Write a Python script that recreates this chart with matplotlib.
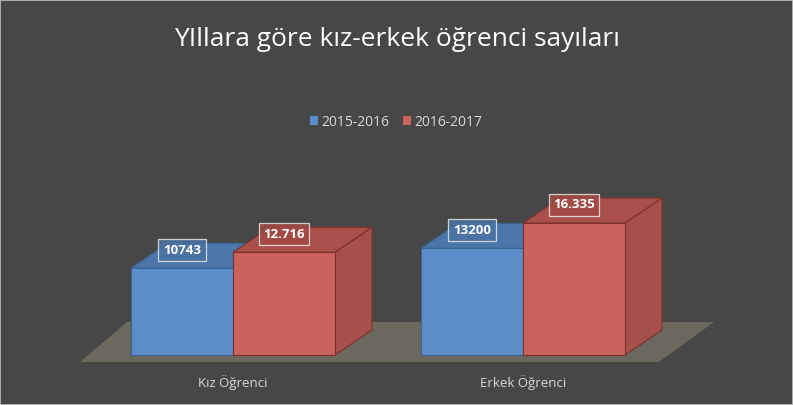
import matplotlib
matplotlib.use("Agg")
import matplotlib.pyplot as plt
from matplotlib.patches import Polygon, Rectangle

# data
categories = ["Kız Öğrenci", "Erkek Öğrenci"]
series_names = ["2015-2016", "2016-2017"]
values_2015 = [10743, 13200]
values_2016 = [12716, 16335]
labels_2015 = ["10743", "13200"]
labels_2016 = ["12.716", "16.335"]

BG = "#474747"
front_cols = ["#5b8ec8", "#c9635b"]
top_cols = ["#4a76aa", "#a9504a"]
side_cols = ["#4a76aa", "#a5504a"]
edge_cols = ["#3a6392", "#7e302b"]
box_cols = ["#4a72a2", "#a44a44"]

plt.rcParams['font.family'] = ['Open Sans', 'DejaVu Sans']

fig = plt.figure(figsize=(7.93, 4.05), dpi=100)
fig.patch.set_facecolor(BG)
ax = fig.add_axes([0, 0, 1, 1])
ax.set_facecolor(BG)
ax.axis("off")

# 1 category step = 290 px, 1 value unit = 0.00808 px, baseline 50 px above the bottom
px_x = 290.0
px_v = 0.00808
ax.set_xlim(-233 / px_x, (793 - 233) / px_x)
ax.set_ylim(-50 / px_v, (405 - 50) / px_v)

w = 102 / px_x          # bar width
dx = 37 / px_x          # depth offset (x)
dy = 25 / px_v          # depth offset (value)

# floor
floor = Polygon([(-153 / px_x, -7 / px_v), (426 / px_x, -7 / px_v),
                 (481 / px_x, 33 / px_v), (-106 / px_x, 33 / px_v)],
                closed=True, facecolor="#6b685e", edgecolor="none", zorder=1)
ax.add_patch(floor)


def box3d(x0, v, k, z):
    fc, tc, sc, ec = front_cols[k], top_cols[k], side_cols[k], edge_cols[k]
    side = Polygon([(x0 + w, 0), (x0 + w + dx, dy), (x0 + w + dx, v + dy), (x0 + w, v)],
                   closed=True, facecolor=sc, edgecolor=ec, lw=0.8, zorder=z)
    top = Polygon([(x0, v), (x0 + w, v), (x0 + w + dx, v + dy), (x0 + dx, v + dy)],
                  closed=True, facecolor=tc, edgecolor=ec, lw=0.8, zorder=z)
    front = Polygon([(x0, 0), (x0 + w, 0), (x0 + w, v), (x0, v)],
                    closed=True, facecolor=fc, edgecolor=ec, lw=0.8, zorder=z + 0.5)
    for p in (side, top, front):
        ax.add_patch(p)


for i in range(len(categories)):
    box3d(i - w, values_2015[i], 0, 2 + i * 2)
    box3d(i, values_2016[i], 1, 3 + i * 2)
    ax.text(i, -28 / px_v, categories[i], ha="center", va="center",
            fontsize=9.5, color="#d9d9d9")

# value labels
for i in range(len(categories)):
    for k, (vals, labs, x0) in enumerate([(values_2015, labels_2015, i - w),
                                          (values_2016, labels_2016, i)]):
        ax.annotate(labs[i], xy=(x0 + w / 2, vals[i]), xytext=(0, 13),
                    textcoords="offset points", ha="center", va="center",
                    fontsize=9.5, fontweight="bold", color="white", zorder=10,
                    bbox=dict(boxstyle="square,pad=0.35", facecolor=box_cols[k],
                              alpha=0.85, edgecolor="#e8e8e8", lw=0.9))

# title
fig.text(0.5, 1 - 40 / 405, "YIllara göre kız-erkek öğrenci sayıları",
         ha="center", va="center", fontsize=19, color="white")

# legend
handles = [Rectangle((0, 0), 1, 1, facecolor=front_cols[k], edgecolor="none")
           for k in range(2)]
leg = fig.legend(handles, series_names, loc="center", bbox_to_anchor=(0.5, 1 - 122 / 405),
                 ncol=2, frameon=False, fontsize=10, labelcolor="#d9d9d9",
                 handlelength=0.55, handleheight=0.55, handletextpad=0.25, columnspacing=1.0)

# thin border
fig.patches.append(Rectangle((0, 0), 1, 1, transform=fig.transFigure, fill=False,
                             edgecolor="#bfbfbf", lw=1.2))

fig.savefig("out.png", dpi=100, facecolor=BG)
